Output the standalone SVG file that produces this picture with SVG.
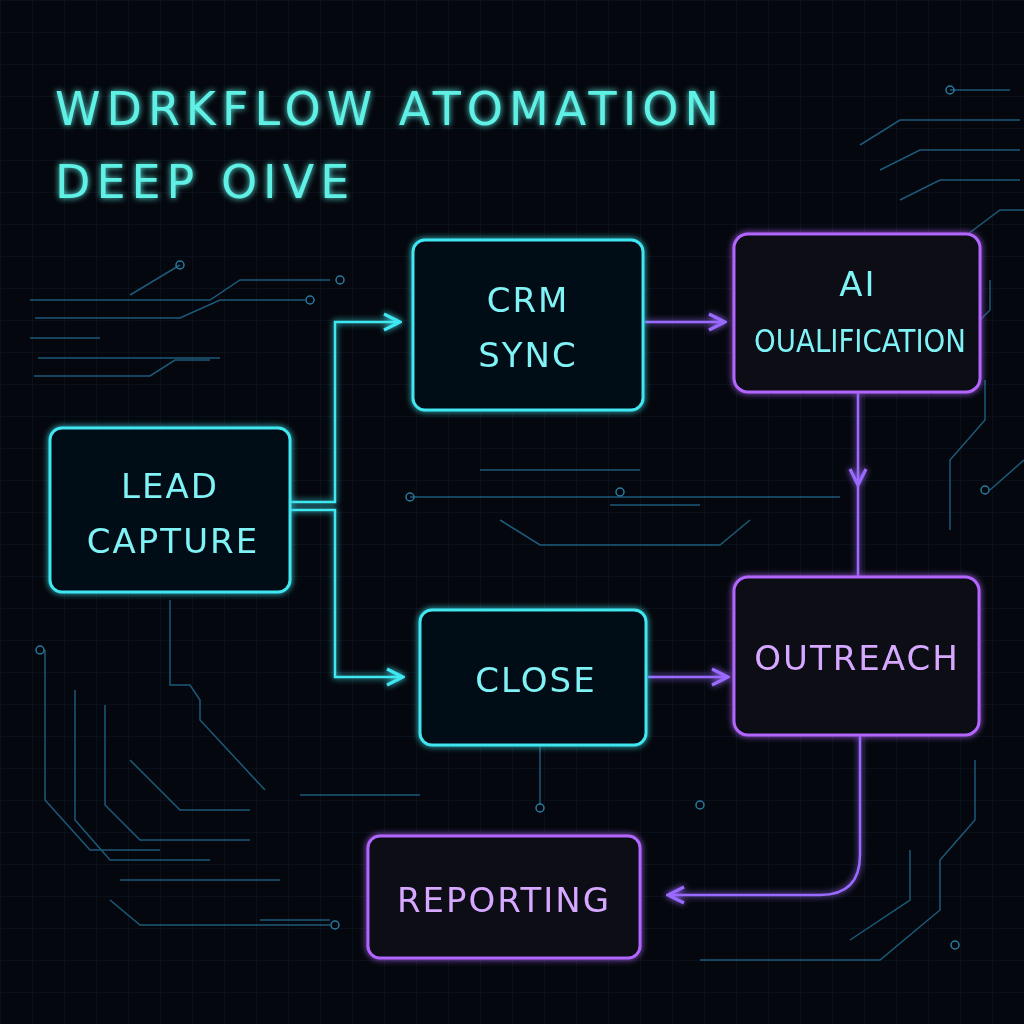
<svg xmlns="http://www.w3.org/2000/svg" width="1024" height="1024" viewBox="0 0 1024 1024">
<defs>
<pattern id="grid" width="32" height="32" patternUnits="userSpaceOnUse"><path d="M32 0H0V32" fill="none" stroke="#0f1a26" stroke-width="1"/></pattern>
<filter id="glow" x="-20%" y="-20%" width="140%" height="140%"><feGaussianBlur stdDeviation="3" result="b"/><feMerge><feMergeNode in="b"/><feMergeNode in="SourceGraphic"/></feMerge></filter>
<marker id="ac" viewBox="0 0 10 10" refX="9" refY="5" markerWidth="8" markerHeight="8" orient="auto"><path d="M1 1L9 5L1 9" fill="none" stroke="#3fe6f0" stroke-width="1.6"/></marker>
<marker id="ap" viewBox="0 0 10 10" refX="9" refY="5" markerWidth="8" markerHeight="8" orient="auto"><path d="M1 1L9 5L1 9" fill="none" stroke="#9a6bff" stroke-width="1.6"/></marker>
</defs>
<style>
.cy{fill:#060b14;stroke:#3fe6f0;stroke-width:3}
.pu{fill:#070816;stroke:#b266ff;stroke-width:3}
.tc{font-family:"DejaVu Sans",sans-serif;font-size:34px;fill:#7ff3f5;text-anchor:middle;letter-spacing:2px}
.tp{font-family:"DejaVu Sans",sans-serif;font-size:34px;fill:#d6a8ff;text-anchor:middle;letter-spacing:2px}
.title{font-family:"DejaVu Sans",sans-serif;font-size:46px;fill:#5ff0e6;letter-spacing:6px}
.cc{fill:none;stroke:#3fe6f0;stroke-width:2.5}
.cp{fill:none;stroke:#9a6bff;stroke-width:2.5}
.tr{fill:none;stroke:#1d5a7a;stroke-width:1.5}
.dot{fill:none;stroke:#2a7aa0;stroke-width:1.5}
</style>
<rect width="1024" height="1024" fill="#04070d"/>
<rect width="1024" height="1024" fill="url(#grid)"/>
<g id="traces">
<path class="tr" d="M30 300H210L240 280H330M35 318H180L220 300H305M30 338H100M38 358H220M34 376H150L175 360H210M180 265L130 295"/>
<path class="tr" d="M45 650V800L90 850H160M75 690V820L110 860H210M105 705V805L140 840H250M170 600V685H190L200 700V720L265 790M130 760L180 810H250M120 880H280M110 900L140 925H330M300 795H420M260 920H330"/>
<path class="tr" d="M410 497H840M480 470H640M500 520L540 545H720L750 520M610 505H700"/>
<path class="tr" d="M950 90H1010M860 145L900 120H1020M880 170L920 150H1020M900 200L940 180H1020M960 240L1000 210H1024M960 340L990 310V280M950 530V460L985 420V380M990 490L1024 460M975 760V820L940 860V910L880 960H700M540 745V805M910 850V900L850 940"/>
<circle class="dot" cx="180" cy="265" r="4"/><circle class="dot" cx="340" cy="280" r="4"/><circle class="dot" cx="310" cy="300" r="4"/><circle class="dot" cx="40" cy="650" r="4"/><circle class="dot" cx="410" cy="497" r="4"/><circle class="dot" cx="620" cy="492" r="4"/><circle class="dot" cx="540" cy="808" r="4"/><circle class="dot" cx="700" cy="805" r="4"/><circle class="dot" cx="950" cy="90" r="4"/><circle class="dot" cx="955" cy="945" r="4"/><circle class="dot" cx="985" cy="490" r="4"/><circle class="dot" cx="335" cy="925" r="4"/>
</g>
<g id="title" filter="url(#glow)">
<text class="title" x="55" y="125">WDRKFLOW ATOMATION</text>
<text class="title" x="55" y="198">DEEP OIVE</text>
</g>
<g id="connectors" filter="url(#glow)">
<path class="cc" d="M290 502H335V322H400" marker-end="url(#ac)"/>
<path class="cc" d="M290 510H335V677H403" marker-end="url(#ac)"/>
<path class="cp" d="M645 322H725" marker-end="url(#ap)"/>
<path class="cp" d="M858 392V485" marker-end="url(#ap)"/>
<path class="cp" d="M858 480V577"/>
<path class="cp" d="M648 677H728" marker-end="url(#ap)"/>
<path class="cp" d="M860 735V855Q860 895 820 895H668" marker-end="url(#ap)"/>
</g>
<g id="lead" filter="url(#glow)"><rect class="cy" x="50" y="428" width="240" height="164" rx="12"/><text class="tc" x="170" y="498">LEAD</text><text class="tc" x="173" y="553">CAPTURE</text></g>
<g id="crm" filter="url(#glow)"><rect class="cy" x="413" y="240" width="230" height="170" rx="12"/><text class="tc" x="528" y="312">CRM</text><text class="tc" x="528" y="367">SYNC</text></g>
<g id="ai" filter="url(#glow)"><rect class="pu" x="734" y="234" width="246" height="158" rx="14"/><text class="tc" x="858" y="296">AI</text><text class="tc" x="860" y="352" style="font-size:32px;letter-spacing:0" textLength="212" lengthAdjust="spacingAndGlyphs">OUALIFICATION</text></g>
<g id="close" filter="url(#glow)"><rect class="cy" x="420" y="610" width="226" height="135" rx="12"/><text class="tc" x="536" y="692">CLOSE</text></g>
<g id="outreach" filter="url(#glow)"><rect class="pu" x="734" y="577" width="245" height="158" rx="14"/><text class="tp" x="857" y="670">OUTREACH</text></g>
<g id="reporting" filter="url(#glow)"><rect class="pu" x="368" y="836" width="272" height="122" rx="12"/><text class="tp" x="504" y="912">REPORTING</text></g>
</svg>
